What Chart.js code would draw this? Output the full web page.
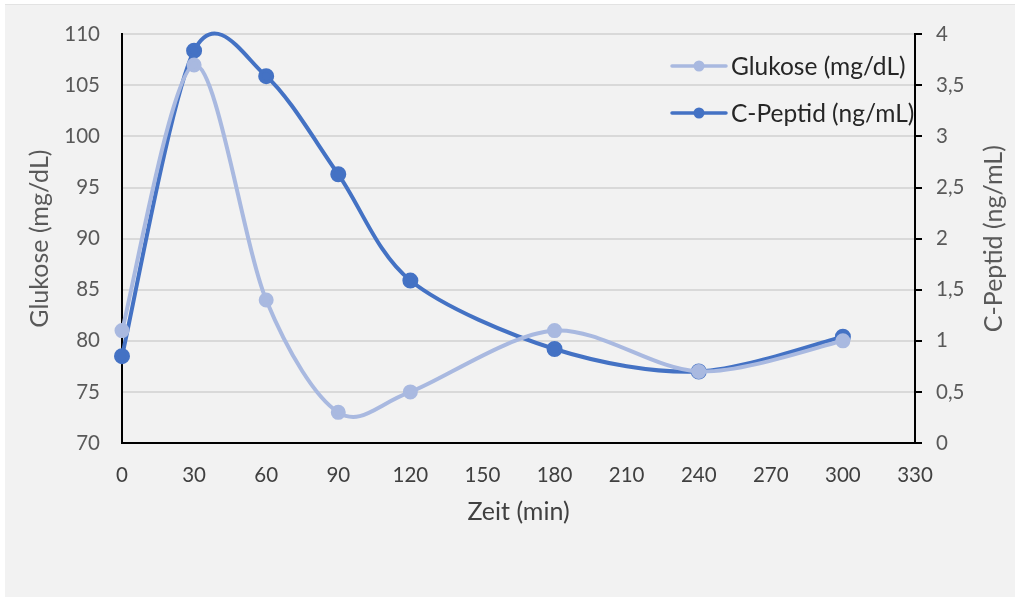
<!DOCTYPE html>
<html>
<head>
<meta charset="utf-8">
<script src="https://cdn.jsdelivr.net/npm/chart.js@4/dist/chart.umd.min.js"></script>
<style>
  html, body { margin: 0; padding: 0; background: #ffffff; }
  #wrap { width: 1015px; height: 599px; position: relative; }
</style>
</head>
<body>
<div id="wrap"><canvas id="chart" width="1015" height="599"></canvas></div>
<script>
// Chart data
const zeit = [0, 30, 60, 90, 120, 180, 240, 300];
const glukose = [81, 107, 84, 73, 75, 81, 77, 80];
const cPeptid = [0.85, 3.84, 3.59, 2.63, 1.59, 0.92, 0.70, 1.04];
const seriesLabels = ['Glukose (mg/dL)', 'C-Peptid (ng/mL)'];
const axisTitles = { x: 'Zeit (min)', y: 'Glukose (mg/dL)', y2: 'C-Peptid (ng/mL)' };

const FONT = 'Lato, "Open Sans", sans-serif';
const colGlukose = '#a9b9e0';
const colPeptid = '#4472c4';

// Background: white page with light grey panel
const backgroundPlugin = {
    id: 'panel',
    beforeDraw(chart) {
        const ctx = chart.ctx;
        ctx.save();
        ctx.fillStyle = '#ffffff';
        ctx.fillRect(0, 0, chart.width, chart.height);
        ctx.fillStyle = '#f2f2f2';
        ctx.fillRect(5, 5, chart.width - 5, chart.height - 7);
        ctx.fillStyle = '#e3e3e3';
        ctx.fillRect(5, 4, chart.width - 5, 1);
        ctx.restore();
    }
};

// Excel-style smoothing: uniform Catmull-Rom-like control points
const smoothPlugin = {
    id: 'excelSmooth',
    beforeDatasetDraw(chart, args) {
        const meta = args.meta;
        const pts = meta.data;
        const n = pts.length;
        const k = 0.155;
        pts.forEach((p, i) => {
            const prev = pts[Math.max(i - 1, 0)];
            const next = pts[Math.min(i + 1, n - 1)];
            const dx = (next.x - prev.x) * k;
            const dy = (next.y - prev.y) * k;
            p.cp1x = p.x - dx;
            p.cp1y = p.y - dy;
            p.cp2x = p.x + dx;
            p.cp2y = p.y + dy;
        });
        meta.dataset._pointsUpdated = true;
    }
};

// Axis titles (both vertical ones read bottom-to-top, like Excel)
const titlesPlugin = {
    id: 'axisTitles',
    afterDraw(chart) {
        const ctx = chart.ctx;
        const area = chart.chartArea;
        const midY = (area.top + area.bottom) / 2;
        ctx.save();
        ctx.textAlign = 'center';
        ctx.textBaseline = 'middle';
        ctx.font = '25px ' + FONT;
        ctx.fillStyle = '#404040';
        ctx.fillText(axisTitles.x, (area.left + area.right) / 2, 512);

        ctx.fillStyle = '#595959';
        [[40, axisTitles.y], [994, axisTitles.y2]].forEach(([x, text]) => {
            ctx.save();
            ctx.translate(x, midY);
            ctx.rotate(-Math.PI / 2);
            ctx.fillText(text, 0, 0);
            ctx.restore();
        });
        ctx.restore();
    }
};

// Legend inside the plot, top right
const legendPlugin = {
    id: 'innerLegend',
    afterDraw(chart) {
        const ctx = chart.ctx;
        const rows = [66, 113];
        ctx.save();
        ctx.font = '24.5px ' + FONT;
        ctx.textBaseline = 'middle';
        ctx.textAlign = 'left';
        chart.data.datasets.forEach((ds, i) => {
            const y = rows[i];
            ctx.strokeStyle = ds.borderColor;
            ctx.lineWidth = 3.5;
            ctx.lineCap = 'round';
            ctx.beginPath();
            ctx.moveTo(672, y);
            ctx.lineTo(726, y);
            ctx.stroke();
            ctx.fillStyle = ds.pointBackgroundColor;
            ctx.beginPath();
            ctx.arc(699, y, 5.5, 0, Math.PI * 2);
            ctx.fill();
            ctx.fillStyle = '#262626';
            ctx.fillText(ds.label, 731, y + 1);
        });
        ctx.restore();
    }
};

new Chart(document.getElementById('chart'), {
    type: 'line',
    data: {
        datasets: [{
            label: seriesLabels[0],
            data: zeit.map((t, i) => ({ x: t, y: glukose[i] })),
            yAxisID: 'y',
            borderColor: colGlukose,
            pointBackgroundColor: colGlukose,
            pointBorderColor: colGlukose,
            borderWidth: 4,
            pointRadius: 5.5,
            tension: 0.4
        }, {
            label: seriesLabels[1],
            data: zeit.map((t, i) => ({ x: t, y: cPeptid[i] })),
            yAxisID: 'y2',
            borderColor: colPeptid,
            pointBackgroundColor: colPeptid,
            pointBorderColor: colPeptid,
            borderWidth: 4,
            pointRadius: 6,
            tension: 0.4
        }]
    },
    options: {
        responsive: false,
        animation: false,
        clip: false,
        layout: { padding: { top: 31, bottom: 0, left: 0, right: 0 } },
        plugins: {
            legend: { display: false },
            tooltip: { enabled: false }
        },
        scales: {
            x: {
                type: 'linear',
                min: 0,
                max: 330,
                ticks: {
                    stepSize: 30,
                    padding: 20,
                    color: '#404040',
                    font: { family: FONT, size: 20.5 }
                },
                grid: { display: false, drawTicks: false },
                border: { display: true, color: '#000000', width: 2 },
                afterFit(scale) { scale.height = 156; }
            },
            y: {
                position: 'left',
                min: 70,
                max: 110,
                ticks: {
                    stepSize: 5,
                    padding: 22,
                    color: '#595959',
                    font: { family: FONT, size: 20.5 }
                },
                grid: { color: '#d9d9d9', lineWidth: 2, drawTicks: false },
                border: { display: true, color: '#000000', width: 2 },
                afterFit(scale) { scale.width = 122; }
            },
            y2: {
                position: 'right',
                min: 0,
                max: 4,
                ticks: {
                    stepSize: 0.5,
                    padding: 14,
                    color: '#595959',
                    font: { family: FONT, size: 20.5 },
                    callback: v => String(v).replace('.', ',')
                },
                grid: {
                    drawOnChartArea: false,
                    color: '#000000',
                    lineWidth: 2,
                    tickLength: 7
                },
                border: { display: true, color: '#000000', width: 2 },
                afterFit(scale) { scale.width = 100; }
            }
        }
    },
    plugins: [backgroundPlugin, smoothPlugin, titlesPlugin, legendPlugin]
});
</script>
</body>
</html>
